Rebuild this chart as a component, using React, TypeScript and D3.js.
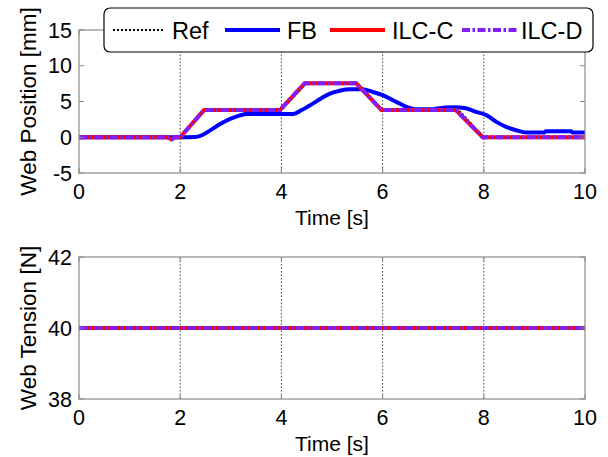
import React from "react";
import * as d3 from "d3";

const timeTicks = [0, 2, 4, 6, 8, 10];
const gridTimes = [2, 4, 6, 8];
const posTicks = [-5, 0, 5, 10, 15];
const tenTicks = [38, 40, 42];

const refT = [0, 2, 2.5, 4, 4.5, 5.5, 6, 7.5, 8, 10];
const refY = [0, 0, 3.8, 3.8, 7.6, 7.6, 3.8, 3.8, 0, 0];

const ilcT = [0, 1.75, 1.83, 1.9, 2, 2.47, 3.97, 4.46, 5.48, 5.98, 7.45, 7.98, 10];
const ilcCY = [0, 0, -0.3, 0, 0, 3.8, 3.8, 7.55, 7.55, 3.8, 3.8, 0, 0];
const ilcDY = [0, 0, -0.3, 0, 0, 3.8, 3.8, 7.55, 7.55, 3.8, 3.8, 0, 0];

const fbT = [0, 2.0, 2.3, 2.45, 2.6, 2.8, 3.0, 3.18, 3.3, 4.23, 4.4, 4.62, 4.8, 4.96, 5.15, 5.35, 5.6, 5.8, 6.0, 6.27, 6.47, 6.67, 7.03, 7.05, 7.42, 7.62, 7.85, 8.05, 8.25, 8.44, 8.64, 8.84, 9.2, 9.22, 9.73, 9.75, 10];
const fbY = [0, 0, 0.05, 0.35, 1.0, 1.9, 2.6, 3.05, 3.25, 3.25, 3.8, 4.7, 5.5, 6.1, 6.5, 6.7, 6.7, 6.35, 5.9, 4.95, 4.25, 3.9, 3.9, 4.0, 4.2, 4.1, 3.55, 3.1, 2.15, 1.45, 0.98, 0.66, 0.66, 0.84, 0.84, 0.66, 0.66];

const tenT = [0, 10];
const tenRef = [40, 40];
const tenFB = [40, 40];
const tenC = [40, 40];
const tenD = [40, 40];

const legendNames = ["Ref", "FB", "ILC-C", "ILC-D"];

const FONT = "'Liberation Sans', Arial, sans-serif";
const FRAME = "#8a8a8a";
const BLUE = "#0000ff";
const RED = "#ff0000";
const PURPLE = "#7f1fff";
const LW = 4;
const DASHD = "8,2.5,2.5,2.5";

const X0 = 79, X1 = 585;

type Series = { t: number[]; y: number[] };

function Panel(props: {
  top: number; bottom: number; domain: [number, number]; ticks: number[]; ylabel: string;
  ref: Series; fb: Series; c: Series; d: Series;
}) {
  const { top, bottom, domain, ticks, ylabel } = props;
  const x = d3.scaleLinear().domain([0, 10]).range([X0, X1]);
  const y = d3.scaleLinear().domain(domain).range([bottom, top]);
  const mk = (s: Series, smooth = false) => {
    const g = d3.line<number>().x((_, i) => x(s.t[i])).y((v) => y(v));
    if (smooth) g.curve(d3.curveMonotoneX);
    return g(s.y) || "";
  };
  const tl = 5;
  return (
    <g>
      {gridTimes.map((t) => (
        <line key={"g" + t} x1={x(t)} x2={x(t)} y1={top} y2={bottom} stroke="#444" strokeWidth={1} strokeDasharray="1.5,2" />
      ))}
      <path d={mk(props.ref)} fill="none" stroke="#000" strokeWidth={2} strokeDasharray="2,2" />
      <path d={mk(props.fb, true)} fill="none" stroke={BLUE} strokeWidth={LW} strokeLinejoin="round" />
      <path d={mk(props.c)} fill="none" stroke={RED} strokeWidth={LW} strokeLinejoin="round" />
      <path d={mk(props.d)} fill="none" stroke={PURPLE} strokeWidth={LW} strokeDasharray={DASHD} strokeLinejoin="round" />
      <rect x={X0} y={top} width={X1 - X0} height={bottom - top} fill="none" stroke={FRAME} strokeWidth={1.2} />
      {timeTicks.map((t) => (
        <g key={"xt" + t}>
          <line x1={x(t)} x2={x(t)} y1={bottom} y2={bottom - tl} stroke={FRAME} />
          <line x1={x(t)} x2={x(t)} y1={top} y2={top + tl} stroke={FRAME} />
          <text x={x(t)} y={bottom + 26} textAnchor="middle" fontSize={21.5} fontFamily={FONT} fill="#000">{t}</text>
        </g>
      ))}
      {ticks.map((v) => (
        <g key={"yt" + v}>
          <line x1={X0} x2={X0 + tl} y1={y(v)} y2={y(v)} stroke={FRAME} />
          <line x1={X1} x2={X1 - tl} y1={y(v)} y2={y(v)} stroke={FRAME} />
          <text x={72} y={y(v) + 7.5} textAnchor="end" fontSize={21.5} fontFamily={FONT} fill="#000">{v}</text>
        </g>
      ))}
      <text x={(X0 + X1) / 2} y={bottom + 52} textAnchor="middle" fontSize={21} fontFamily={FONT} fill="#000">Time [s]</text>
      <text transform={`translate(36,${(top + bottom) / 2}) rotate(-90)`} textAnchor="middle" fontSize={22.5} fontFamily={FONT} fill="#000">{ylabel}</text>
    </g>
  );
}

export default function App() {
  const posRef = { t: refT, y: refY };
  const posFB = { t: fbT, y: fbY };
  const posC = { t: ilcT, y: ilcCY };
  const posD = { t: ilcT, y: ilcDY };
  const legY = 30;
  const items = [
    { x1: 113, x2: 163, tx: 172, stroke: "#000", w: 2, dash: "2,2" },
    { x1: 225, x2: 280, tx: 287, stroke: BLUE, w: LW, dash: undefined },
    { x1: 330, x2: 385, tx: 392, stroke: RED, w: LW, dash: undefined },
    { x1: 462, x2: 517, tx: 521, stroke: PURPLE, w: LW, dash: DASHD },
  ];
  return (
    <svg width={608} height={457} style={{ position: "absolute", left: 0, top: 0, background: "#fff" }}>
      <rect width={608} height={457} fill="#fff" />
      <Panel top={30} bottom={173} domain={[-5, 15]} ticks={posTicks} ylabel="Web Position [mm]"
        ref={posRef} fb={posFB} c={posC} d={posD} />
      <Panel top={257} bottom={399} domain={[38, 42]} ticks={tenTicks} ylabel="Web Tension [N]"
        ref={{ t: tenT, y: tenRef }} fb={{ t: tenT, y: tenFB }} c={{ t: tenT, y: tenC }} d={{ t: tenT, y: tenD }} />
      <g>
        <rect x={104} y={8} width={489} height={44} rx={6} ry={6} fill="#fff" stroke="#000" strokeWidth={1.2} />
        {items.map((it, i) => (
          <g key={legendNames[i]}>
            <line x1={it.x1} x2={it.x2} y1={legY} y2={legY} stroke={it.stroke} strokeWidth={it.w} strokeDasharray={it.dash} />
            <text x={it.tx} y={legY + 8.5} fontSize={23.5} fontFamily={FONT} fill="#000">{legendNames[i]}</text>
          </g>
        ))}
      </g>
    </svg>
  );
}
